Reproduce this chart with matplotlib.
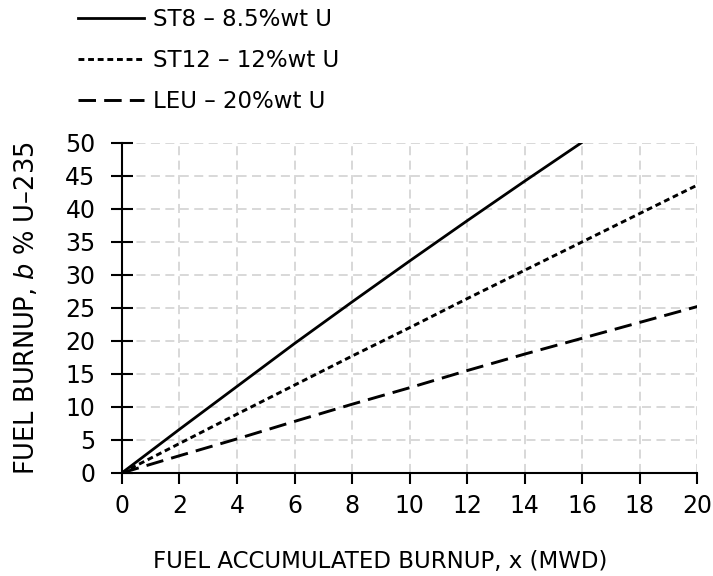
import matplotlib
matplotlib.use("Agg")
import matplotlib.pyplot as plt

x_vals = [0, 2, 4, 6, 8, 10, 12, 14, 16, 18, 20]
st8 = [0, 6.6, 13.1, 19.6, 25.9, 32.1, 38.2, 44.2, 50.1, 56.0, 61.8]
st12 = [0, 4.45, 8.9, 13.3, 17.7, 22.0, 26.4, 30.7, 35.0, 39.3, 43.6]
leu = [0, 2.6, 5.15, 7.8, 10.4, 12.9, 15.5, 18.0, 20.4, 22.8, 25.2]

labels = ["ST8 \u2013 8.5%wt U", "ST12 \u2013 12%wt U", "LEU \u2013 20%wt U"]
xticks = list(range(0, 21, 2))
yticks = list(range(0, 51, 5))

plt.rcParams['font.family'] = ['DejaVu Sans']
fig = plt.figure(figsize=(7.13, 5.76), dpi=100)
ax = fig.add_axes([0.171, 0.179, 0.807, 0.573])

l1, = ax.plot(x_vals, st8, color='black', lw=2.0, linestyle='-')
l2, = ax.plot(x_vals, st12, color='black', lw=2.1, linestyle=(0, (2.0, 1.3)))
l3, = ax.plot(x_vals, leu, color='black', lw=2.1, linestyle=(0, (6.0, 2.8)))

ax.set_xlim(0, 20)
ax.set_ylim(0, 50)
ax.set_xticks(xticks)
ax.set_yticks(yticks)
ax.grid(True, color='#d6d6d6', linestyle=(0, (5, 3)), lw=1.3)
ax.set_axisbelow(True)
for s in ['top', 'right']:
    ax.spines[s].set_visible(False)
for s in ['left', 'bottom']:
    ax.spines[s].set_linewidth(1.5)
ax.tick_params(axis='x', direction='out', length=8, width=1.5, labelsize=17, pad=7)
ax.tick_params(axis='y', direction='inout', length=16, width=1.5, labelsize=17, pad=11)

ax.set_xlabel("FUEL ACCUMULATED BURNUP, x (MWD)", fontsize=16.5, labelpad=23, x=0.449)
ax.set_ylabel("FUEL BURNUP, $\\it{b}$ % U\u2013235", fontsize=18.5, labelpad=18)

fig.legend([l1, l2, l3], labels, loc='upper left', bbox_to_anchor=(0.08, 1.022),
           frameon=False, fontsize=16.5, handlelength=2.9, handletextpad=0.4,
           labelspacing=0.78)

fig.savefig("out.png", dpi=100)
